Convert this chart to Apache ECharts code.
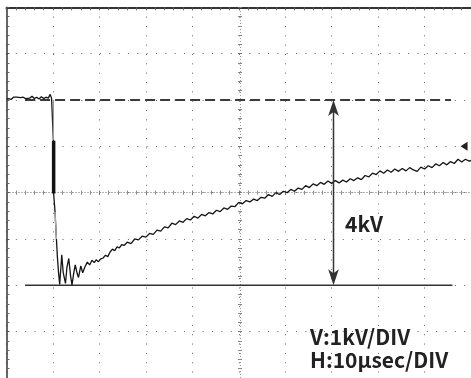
<!DOCTYPE html>
<html>
<head>
<meta charset="utf-8">
<script src="https://cdn.jsdelivr.net/npm/echarts@6/dist/echarts.min.js"></script>
<style>
html,body{margin:0;padding:0;background:#fff;}
#main{width:471px;height:378px;}
</style>
</head>
<body>
<div id="main"></div>
<script>
// 横軸 µs (10µs/DIV)、縦軸 kV (1kV/DIV)
const preTrigger = [
  [0, 2.02], [0.5, 2.03], [1.0, 2.01], [1.3, 2.02], [1.5, 2.06], [2.2, 2.06], [3.0, 2.05], [3.6, 2.06],
  [4.1, 2.03], [4.5, 2.07], [5.0, 2.04], [5.5, 2.08], [6.0, 2.03], [6.5, 2.06], [7.0, 2.02],
  [7.5, 2.07], [8.0, 2.03], [8.5, 2.06], [9.0, 2.04], [9.4, 2.12], [9.7, 2.04], [10.0, 2.03]
];
const fallRing = [
  [10.1, 2.03], [10.1, 1.12], [10.15, -0.02], [10.45, -0.42], [10.75, -1.0], [10.95, -1.38],
  [11.2, -1.72], [11.45, -1.98], [11.9, -1.34], [12.2, -1.72], [12.7, -1.96], [13.0, -1.62],
  [13.4, -1.42], [13.8, -1.8], [14.1, -1.99], [14.5, -1.72], [14.8, -1.56], [15.2, -1.74],
  [15.5, -1.83], [16.0, -1.58], [16.4, -1.73], [16.9, -1.6], [17.4, -1.5], [17.9, -1.56],
  [18.4, -1.46], [18.9, -1.51], [19.3, -1.45], [19.8, -1.49], [20.3, -1.43], [20.8, -1.41],
  [21.3, -1.35], [21.8, -1.38], [22.3, -1.28], [22.8, -1.22], [23.3, -1.25], [23.8, -1.17],
  [24.3, -1.19], [24.8, -1.12], [25.3, -1.14]
];
const recovery = [
  [26.0, -1.07], [26.8, -1.10], [27.6, -1.00], [28.4, -1.02], [29.2, -0.94], [30.0, -0.96],
  [30.8, -0.88], [31.6, -0.90], [32.4, -0.81], [33.2, -0.83], [34.0, -0.74], [34.8, -0.76],
  [35.6, -0.66], [36.4, -0.69], [37.2, -0.61], [38.0, -0.64], [38.8, -0.56], [39.6, -0.59],
  [40.4, -0.51], [41.2, -0.55], [42.0, -0.47], [42.8, -0.50], [43.6, -0.43], [44.4, -0.46],
  [45.2, -0.38], [46.0, -0.41], [46.8, -0.33], [47.6, -0.36], [48.4, -0.29], [49.2, -0.30],
  [50.0, -0.21], [50.8, -0.24], [51.6, -0.17], [52.4, -0.20], [53.2, -0.14], [54.0, -0.17],
  [54.8, -0.10], [55.6, -0.12], [56.4, -0.04], [57.2, -0.08], [58.0, 0.00], [58.8, -0.04],
  [59.6, 0.03], [60.4, 0.00], [61.2, 0.07], [62.0, 0.03], [62.8, 0.10], [63.6, 0.07],
  [64.4, 0.15], [65.2, 0.11], [66.0, 0.19], [66.8, 0.15], [67.6, 0.22], [68.4, 0.18],
  [69.2, 0.25], [70.0, 0.20], [70.8, 0.26], [71.6, 0.21], [72.4, 0.27], [73.2, 0.23],
  [74.0, 0.30], [74.8, 0.26], [75.6, 0.32], [76.4, 0.28], [77.2, 0.37], [78.0, 0.34],
  [78.8, 0.42], [79.6, 0.39], [80.4, 0.47], [81.2, 0.42], [82.0, 0.49], [82.8, 0.44],
  [83.6, 0.51], [84.4, 0.46], [85.2, 0.52], [86.0, 0.47], [86.8, 0.54], [87.6, 0.49],
  [88.4, 0.46], [89.2, 0.55], [90.0, 0.51], [90.8, 0.58], [91.6, 0.54], [92.4, 0.62],
  [93.2, 0.58], [94.0, 0.65], [94.8, 0.60], [95.6, 0.67], [96.4, 0.63], [97.2, 0.72],
  [98.0, 0.66], [98.8, 0.72], [99.6, 0.68], [100.4, 0.71]
];
const edgeFaint = [[10.1, 2.0], [10.1, 1.14]];
const edgeFaintLow = [[10.45, -0.42], [10.75, -1.0]];
const edgeThick = [[10.15, 1.12], [10.15, -0.02]];
const refHigh = [[4, 2], [95.7, 2]];
const refLow = [[4, -2], [96, -2]];
const spanShaft = [[70.4, 1.8], [70.4, -1.8]];
const spanTop = [70.4, 2];
const spanBottom = [70.4, -2];
const triggerLevel = [[98.5, 1.0]];

const trace = preTrigger.concat(fallRing, recovery);

const chart = echarts.init(document.getElementById('main'), null, {renderer: 'canvas'});
const dot = '#666';
const font = '"Noto Sans CJK JP", "Noto Sans", sans-serif';

function centerX(inside) {
  return {
    type: 'value', min: 0, max: 100, interval: 10, position: 'bottom',
    axisLine: {onZero: true, onZeroAxisIndex: 0, lineStyle: {color: '#9a9a9a', width: 1, type: [1, 2], cap: 'butt'}},
    axisTick: {show: true, inside: inside, length: 2, lineStyle: {color: '#777'}},
    minorTick: {show: true, splitNumber: 5, length: 2, lineStyle: {color: '#888'}},
    axisLabel: {show: false}, splitLine: {show: false}
  };
}
function centerY(inside) {
  return {
    type: 'value', min: -4, max: 4, interval: 1, position: 'left', offset: -233.5,
    axisLine: {onZero: false, lineStyle: {color: '#9a9a9a', width: 1, type: [1, 2], cap: 'butt'}},
    axisTick: {show: true, inside: inside, length: 2, lineStyle: {color: '#777'}},
    minorTick: {show: true, splitNumber: 5, length: 2, lineStyle: {color: '#888'}},
    axisLabel: {show: false}, splitLine: {show: false}
  };
}

const option = {
  backgroundColor: '#fff',
  animation: false,
  grid: {left: 6.5, top: 7.3, width: 467, height: 373.3},
  xAxis: [
    {
      type: 'value', min: 0, max: 100, interval: 10, position: 'top',
      axisLine: {onZero: false, lineStyle: {color: '#333', width: 2}},
      axisTick: {inside: true, length: 3, lineStyle: {color: '#555'}},
      minorTick: {show: true, splitNumber: 5, length: 3, lineStyle: {color: '#666'}},
      axisLabel: {show: false},
      splitLine: {show: true, lineStyle: {color: dot, width: 1, type: [1, 8.34], cap: 'butt'}}
    },
    centerX(false),
    centerX(true)
  ],
  yAxis: [
    {
      type: 'value', min: -4, max: 4, interval: 1, position: 'left',
      axisLine: {onZero: false, lineStyle: {color: '#333', width: 1.5}},
      axisTick: {inside: true, length: 3, lineStyle: {color: '#555'}},
      minorTick: {show: true, splitNumber: 5, length: 3, lineStyle: {color: '#666'}},
      axisLabel: {show: false},
      splitLine: {show: true, lineStyle: {color: dot, width: 1, type: [1, 8.34], cap: 'butt'}}
    },
    centerY(false),
    centerY(true)
  ],
  series: [
    {name: 'refHigh', type: 'line', data: refHigh, symbol: 'none', z: 2,
      lineStyle: {color: '#3a3a3a', width: 2, type: [10, 5]}},
    {name: 'refLow', type: 'line', data: refLow, symbol: 'none', z: 2,
      lineStyle: {color: '#333', width: 1.5}},
    {name: 'trace', type: 'line', data: trace, symbol: 'none', z: 3,
      lineStyle: {color: '#151515', width: 1.3}},
    {name: 'edgeFaint', type: 'line', data: edgeFaint, symbol: 'none', z: 4,
      lineStyle: {color: '#9a9a9a', width: 1.2}},
    {name: 'edgeFaintLow', type: 'line', data: edgeFaintLow, symbol: 'none', z: 4,
      lineStyle: {color: '#aaa', width: 1.3}},
    {name: 'edgeThick', type: 'line', data: edgeThick, symbol: 'none', z: 4,
      lineStyle: {color: '#111', width: 3.5}},
    {name: 'spanShaft', type: 'line', data: spanShaft, symbol: 'none', z: 5,
      lineStyle: {color: '#333', width: 1.5}},
    {name: 'spanHeads', type: 'scatter', symbol: 'arrow', symbolSize: [8, 16], z: 5,
      itemStyle: {color: '#333', opacity: 1},
      data: [
        {value: spanTop, symbolRotate: 0},
        {value: spanBottom, symbolRotate: 180}
      ]},
    {name: 'trigger', type: 'scatter', data: triggerLevel, symbol: 'triangle',
      symbolRotate: 90, symbolSize: [9, 7], z: 5, itemStyle: {color: '#222', opacity: 1}}
  ],
  graphic: [
    {type: 'text', z: 10, style: {text: '4kV', x: 345, y: 224.5, verticalAlign: 'middle',
      font: 'bold 21px ' + font, fill: '#222'}},
    {type: 'text', z: 10, style: {text: 'V:1kV/DIV', x: 310, y: 337.5, verticalAlign: 'middle',
      font: 'bold 21px ' + font, fill: '#222'}},
    {type: 'text', z: 10, style: {text: 'H:10μsec/DIV', x: 310, y: 360, verticalAlign: 'middle',
      font: 'bold 21px ' + font, fill: '#222'}}
  ]
};

chart.setOption(option);
</script>
</body>
</html>
